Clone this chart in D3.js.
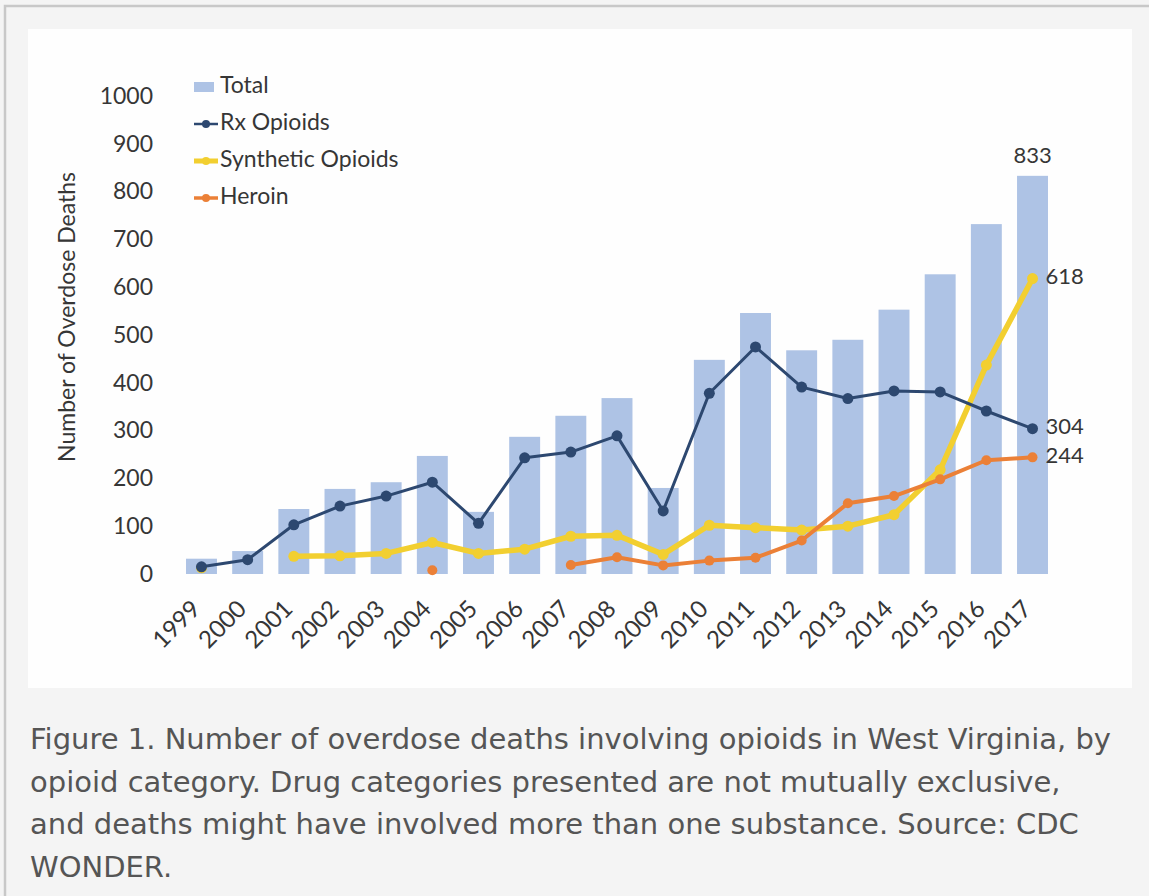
<!DOCTYPE html>
<html><head><meta charset="utf-8">
<script src="https://cdn.jsdelivr.net/npm/d3@7"></script>
<style>body{margin:0;background:#f4f4f4;overflow:hidden} svg{display:block}</style>
</head><body><svg id="c" width="1149" height="896"></svg>
<script>
const years = ["1999","2000","2001","2002","2003","2004","2005","2006","2007","2008","2009","2010","2011","2012","2013","2014","2015","2016","2017"];
const total =     [32, 48, 136, 178, 192, 247, 130, 287, 331, 368, 180, 448, 546, 468, 490, 553, 627, 732, 833];
const rx =        [15, 30, 103, 142, 163, 192, 106, 243, 255, 289, 132, 378, 475, 391, 367, 383, 381, 341, 304];
const synthetic = [13, null, 37, 38, 43, 66, 43, 52, 79, 81, 41, 102, 97, 92, 100, 124, 218, 437, 618];
const heroin =    [null, null, null, null, null, 8, null, null, 19, 35, 18, 28, 34, 70, 148, 163, 198, 238, 244];
const yTicks = [0,100,200,300,400,500,600,700,800,900,1000];
const seriesNames = ["Total","Rx Opioids","Synthetic Opioids","Heroin"];
const captionLines = [
  "Figure 1. Number of overdose deaths involving opioids in West Virginia, by",
  "opioid category. Drug categories presented are not mutually exclusive,",
  "and deaths might have involved more than one substance. Source: CDC",
  "WONDER."
];
const yTitle = "Number of Overdose Deaths";

const colors = {bar:"#aec3e5", rx:"#2d4870", syn:"#f2cf30", her:"#eb8037"};
const font = "Lato, 'Open Sans', sans-serif";
const ink = "#363636";

const svg = d3.select("#c");
svg.append("rect").attr("x",0).attr("y",0).attr("width",1149).attr("height",896).attr("fill","#f4f4f4");
svg.append("rect").attr("x",5).attr("y",6).attr("width",1160).attr("height",900)
  .attr("fill","none").attr("stroke","#c8c8c8").attr("stroke-width",2.5);
svg.append("rect").attr("x",28).attr("y",29).attr("width",1104).attr("height",659).attr("fill","#fefefe");

const x = d3.scaleBand().domain(years).range([178.4,1055.6]).paddingInner(0.33).paddingOuter(0.165);
const y = d3.scaleLinear().domain([0,1000]).range([574,96]);
const cx = d => x(d) + x.bandwidth()/2;

// y axis
const ya = svg.append("g").attr("transform","translate(153,0)")
  .call(d3.axisLeft(y).tickValues(yTicks).tickFormat(d3.format("d")).tickSize(0).tickPadding(0));
ya.select(".domain").remove();
ya.selectAll("text").attr("font-family",font).attr("font-size",23).attr("fill",ink);

svg.append("text").attr("transform","translate(69,317) rotate(-90)")
  .attr("text-anchor","middle").attr("dominant-baseline","middle")
  .attr("font-family",font).attr("font-size",23).attr("fill",ink).text(yTitle);

// x axis
const xa = svg.append("g").attr("transform","translate(0,582)")
  .call(d3.axisBottom(x).tickSize(0).tickPadding(0));
xa.select(".domain").remove();
xa.selectAll("text").attr("font-family",font).attr("font-size",24).attr("fill",ink)
  .attr("text-anchor","end").attr("dy",0)
  .attr("transform","translate(-4,24) rotate(-45)")
  .attr("dominant-baseline","middle");

// bars
svg.append("g").selectAll("rect").data(years).join("rect")
  .attr("x",d=>x(d)).attr("width",x.bandwidth())
  .attr("y",(d,i)=>y(total[i])).attr("height",(d,i)=>y(0)-y(total[i]))
  .attr("fill",colors.bar);

function drawSeries(vals, color, width, r){
  const line = d3.line().defined(d=>d[1]!=null).x(d=>cx(d[0])).y(d=>y(d[1]));
  const pts = years.map((yr,i)=>[yr, vals[i]]);
  svg.append("path").datum(pts).attr("d",line).attr("fill","none")
    .attr("stroke",color).attr("stroke-width",width).attr("stroke-linejoin","round").attr("stroke-linecap","round");
  svg.append("g").selectAll("circle").data(pts.filter(d=>d[1]!=null)).join("circle")
    .attr("cx",d=>cx(d[0])).attr("cy",d=>y(d[1])).attr("r",r).attr("fill",color);
}
drawSeries(synthetic, colors.syn, 5.5, 5.5);
drawSeries(heroin, colors.her, 4, 5);
drawSeries(rx, colors.rx, 3, 5.5);

// data labels
const last = years[years.length-1], n = years.length-1;
const lab = svg.append("g").attr("font-family",font).attr("font-size",22).attr("fill",ink);
lab.append("text").attr("x",cx(last)).attr("y",y(total[n])-18).attr("text-anchor","middle")
  .attr("dominant-baseline","middle").text(total[n]);
[[synthetic[n]],[rx[n]],[heroin[n]]].forEach(([v])=>{
  lab.append("text").attr("x",cx(last)+13).attr("y",y(v)).attr("dominant-baseline","middle").text(v);
});

// legend
const lg = svg.append("g").attr("font-family",font).attr("font-size",23).attr("fill",ink);
const legY = [87,124,161,198];
lg.append("rect").attr("x",194).attr("y",legY[0]-5).attr("width",20).attr("height",10).attr("fill",colors.bar);
[[colors.rx,2.5],[colors.syn,5],[colors.her,3.5]].forEach(([c,w],i)=>{
  lg.append("line").attr("x1",194).attr("x2",218).attr("y1",legY[i+1]).attr("y2",legY[i+1]).attr("stroke",c).attr("stroke-width",w);
  lg.append("circle").attr("cx",206).attr("cy",legY[i+1]).attr("r",4).attr("fill",c);
});
seriesNames.forEach((s,i)=>{
  lg.append("text").attr("x",220).attr("y",legY[i]).attr("dominant-baseline","middle").text(s);
});

// caption
const cap = svg.append("g").attr("font-family","'DejaVu Sans', sans-serif").attr("font-size",29).attr("fill","#555");
captionLines.forEach((t,i)=>{
  cap.append("text").attr("x",30).attr("y",749+i*42.5).text(t);
});
</script></body></html>
